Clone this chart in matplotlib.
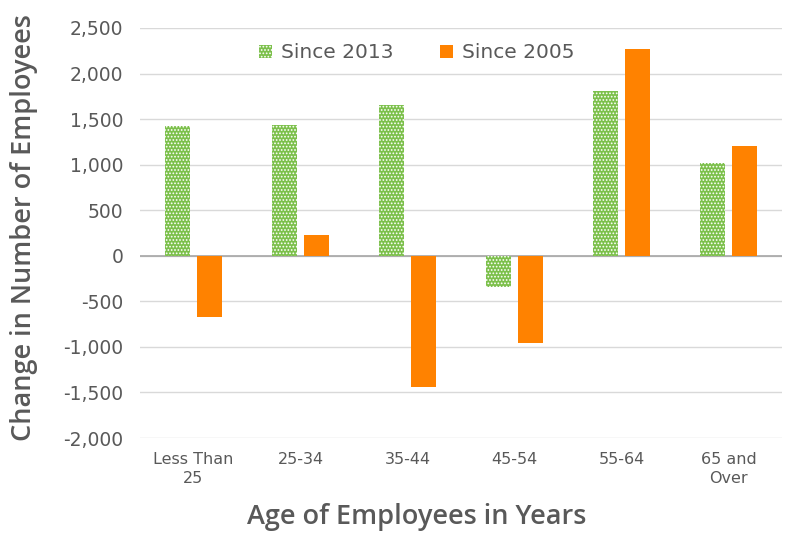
import matplotlib
matplotlib.use("Agg")
import matplotlib.pyplot as plt
import numpy as np

categories = ["Less Than\n25", "25-34", "35-44", "45-54", "55-64", "65 and\nOver"]
since_2013 = [1420, 1430, 1660, -340, 1810, 1020]
since_2005 = [-670, 230, -1440, -955, 2270, 1210]
yticks = [-2000, -1500, -1000, -500, 0, 500, 1000, 1500, 2000, 2500]

plt.rcParams['font.family'] = ['DejaVu Sans']
plt.rcParams['hatch.color'] = 'white'
plt.rcParams['hatch.linewidth'] = 0.8

fig = plt.figure(figsize=(7.91, 5.33), dpi=100)
W, H = 791, 533
ax = fig.add_axes([140/W, 1-438/H, (782-140)/W, (438-28)/H])

x = np.arange(len(categories))
bw = 0.235
gap = 0.06
ax.bar(x - (bw+gap)/2, since_2013, bw, color='#7CC04B', hatch='.....',
       edgecolor='white', linewidth=0, label='Since 2013', zorder=3)
ax.bar(x + (bw+gap)/2, since_2005, bw, color='#FF8200', linewidth=0,
       label='Since 2005', zorder=3)

ax.set_xlim(-0.5, len(categories)-0.5)
ax.set_ylim(-2000, 2500)
ax.set_yticks(yticks)
ax.set_yticklabels([f"{v:,}" for v in yticks])
ax.set_xticks(x)
ax.set_xticklabels(categories, linespacing=1.35)
ax.grid(axis='y', color='#D9D9D9', linewidth=1, zorder=0)
ax.axhline(0, color='#A6A6A6', linewidth=1.2, zorder=2)
for s in ax.spines.values():
    s.set_visible(False)
ax.tick_params(axis='both', length=0, colors='#595959')
ax.tick_params(axis='y', pad=12, labelsize=13.5)
ax.tick_params(axis='x', pad=10, labelsize=11.5)

lab_font = dict(family=['Open Sans'], fontweight='semibold', color='#595959')
ax.set_ylabel('Change in Number of Employees', fontsize=19.5, **lab_font)
ax.yaxis.set_label_coords((38-140)/642, (438-228)/410)
ax.set_xlabel('Age of Employees in Years', fontsize=19.5, **lab_font)
ax.xaxis.set_label_coords((417-140)/642, (438-503)/410)

leg = ax.legend(loc='center', bbox_to_anchor=((417-140)/642, (438-53)/410), ncol=2,
                frameon=False, fontsize=14.5, handlelength=0.65, handleheight=0.65,
                handletextpad=0.45, columnspacing=2.3, borderaxespad=0)
for t in leg.get_texts():
    t.set_color('#595959')

fig.savefig('out.png', dpi=100)
